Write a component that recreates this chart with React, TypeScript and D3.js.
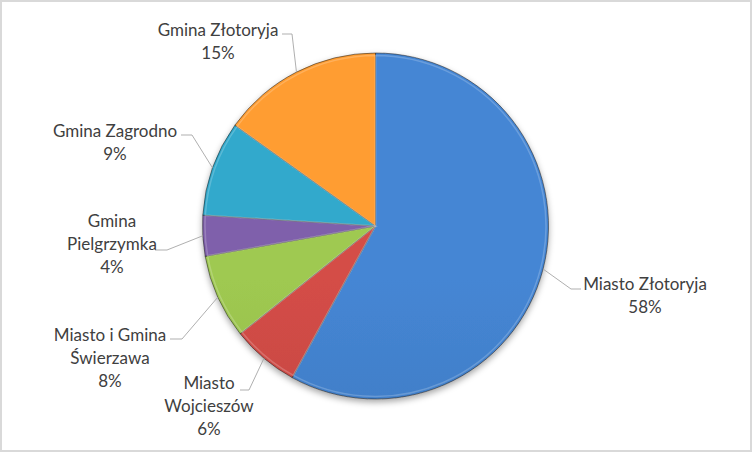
import React from 'react';
import * as d3 from 'd3';

const categories = [
    'Miasto Złotoryja',
    'Miasto Wojcieszów',
    'Miasto i Gmina Świerzawa',
    'Gmina Pielgrzymka',
    'Gmina Zagrodno',
    'Gmina Złotoryja'
];
const shares = [58.0, 6.3, 7.9, 3.8, 8.9, 15.1];
const labelLines = [
    ['Miasto Złotoryja'],
    ['Miasto', 'Wojcieszów'],
    ['Miasto i Gmina', 'Świerzawa'],
    ['Gmina', 'Pielgrzymka'],
    ['Gmina Zagrodno'],
    ['Gmina Złotoryja']
];
const colors = ['#4280cb', '#cb4a44', '#98c14e', '#7a5ca4', '#2ea2c3', '#f7962f'];

// label layout: center x, first line y, leader start, elbow
const labelLayout = [
    { x: 645, y: 284, start: [581, 289], elbow: [571, 289] },
    { x: 209, y: 383, start: [240, 390], elbow: [249, 390] },
    { x: 110, y: 335, start: [170, 339], elbow: [182, 339] },
    { x: 112, y: 221, start: [155, 250], elbow: [167, 250] },
    { x: 115, y: 131, start: [181, 135], elbow: [192, 135] },
    { x: 218, y: 30, start: [282, 34], elbow: [292, 34] }
];

const W = 752;
const H = 452;
const cx = 375.5;
const cy = 226;
const R = 173;
const lineH = 23;

export default function App() {
    const pie = d3.pie<number>().sort(null).value(d => d);
    const arcs = pie(shares);
    const arc = d3.arc<d3.PieArcDatum<number>>().innerRadius(0).outerRadius(R);
    const inner = d3.arc<d3.PieArcDatum<number>>().innerRadius(0).outerRadius(R - 2.5);
    const total = d3.sum(shares);

    return (
        <>
            <style>{`body{margin:0}`}</style>
            <svg width={W} height={H} style={{ display: 'block', fontFamily: 'Lato, "Liberation Sans", sans-serif' }}>
                <defs>
                    <filter id="shadow" x="-20%" y="-20%" width="140%" height="140%">
                        <feDropShadow dx="0" dy="3" stdDeviation="3" floodColor="#000" floodOpacity="0.35" />
                    </filter>
                    {colors.map((c, i) => (
                        <linearGradient key={i} id={`g${i}`} gradientUnits="userSpaceOnUse" x1={0} y1={cy - R} x2={0} y2={cy + R}>
                            <stop offset="0" stopColor={d3.color(c)!.brighter(0.12).formatHex()} />
                            <stop offset="1" stopColor={d3.color(c)!.darker(0.3).formatHex()} />
                        </linearGradient>
                    ))}
                </defs>
                <rect x={1} y={1} width={W - 2} height={H - 2} fill="#fff" stroke="#d9d9d9" strokeWidth={2} />

                <g transform={`translate(${cx},${cy})`}>
                    <g filter="url(#shadow)">
                        {arcs.map((a, i) => (
                            <path key={i} d={arc(a) || ''} fill={`url(#g${i})`} stroke="rgba(30,30,30,0.6)" strokeWidth={0.9} />
                        ))}
                    </g>
                    {arcs.map((a, i) => (
                        <path key={i} d={inner(a) || ''} fill="none" stroke="rgba(255,255,255,0.2)" strokeWidth={1.5} />
                    ))}
                </g>

                {arcs.map((a, i) => {
                    const mid = (a.startAngle + a.endAngle) / 2;
                    const ex = cx + R * Math.sin(mid);
                    const ey = cy - R * Math.cos(mid);
                    const L = labelLayout[i];
                    return (
                        <polyline key={i}
                            points={`${L.start[0]},${L.start[1]} ${L.elbow[0]},${L.elbow[1]} ${ex},${ey}`}
                            fill="none" stroke="#a6a6a6" strokeWidth={0.9} />
                    );
                })}

                {arcs.map((a, i) => {
                    const L = labelLayout[i];
                    const lines = [...labelLines[i], `${Math.round((shares[i] / total) * 100)}%`];
                    return (
                        <text key={i} textAnchor="middle" fontSize={17} fill="#404040">
                            {lines.map((t, j) => (
                                <tspan key={j} x={L.x} y={L.y + j * lineH} dy="0.35em">{t}</tspan>
                            ))}
                        </text>
                    );
                })}
            </svg>
        </>
    );
}
